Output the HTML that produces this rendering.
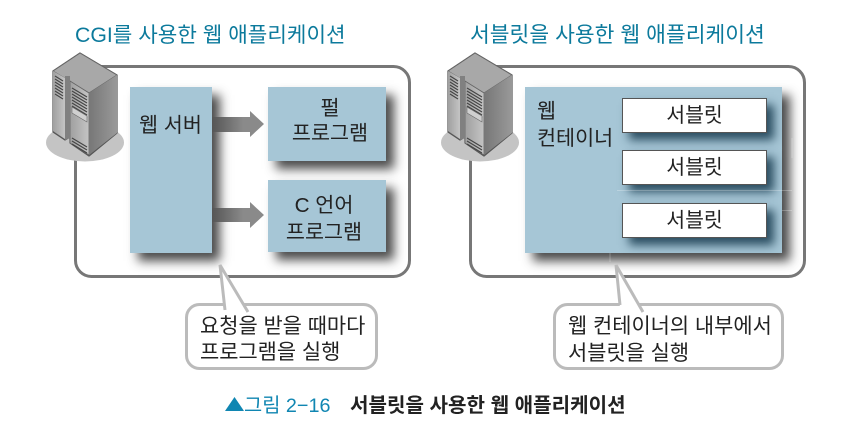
<!DOCTYPE html>
<html lang="ko"><head><meta charset="utf-8">
<style>
html,body{margin:0;padding:0;background:#fff}
#p{position:relative;width:864px;height:442px;overflow:hidden;background:#fff;font-family:"Liberation Sans","Noto Sans CJK KR",sans-serif;color:#222}
.b{position:absolute;background:#a6c6d6;box-shadow:8px 8px 10px rgba(30,30,30,.8)}
.s{position:absolute;background:#fff;border:1px solid #555;box-sizing:border-box;box-shadow:7px 7px 9px rgba(30,65,85,.9);left:622px;width:145px;height:35px;text-align:center;font-size:20.500px;line-height:33px}
.t{position:absolute;white-space:nowrap;font-size:20.700px;line-height:24px}
.c{text-align:center}
svg{position:absolute;left:0;top:0}
</style></head><body><div id="p">
<svg width="864" height="442" style="z-index:0">
<rect x="75.5" y="66.5" width="334" height="210" rx="16" fill="#fff" stroke="#777" stroke-width="3"/>
<rect x="470.5" y="66.5" width="334" height="210" rx="16" fill="#fff" stroke="#777" stroke-width="3"/>
<defs>
<linearGradient id="a" x1="0" x2="1" y1="0" y2="0"><stop offset="0" stop-color="#555"/><stop offset=".6" stop-color="#8a8a8a"/><stop offset="1" stop-color="#8a8a8a"/></linearGradient>
<linearGradient id="f" x1="0" x2="1" y1="0" y2="0"><stop offset="0" stop-color="#a0a0a0"/><stop offset="1" stop-color="#c4c4c4"/></linearGradient>
<linearGradient id="r" x1="0" x2="1" y1="0" y2="0"><stop offset="0" stop-color="#777"/><stop offset="1" stop-color="#999"/></linearGradient>
<g id="srv">
<ellipse cx="85" cy="142.500" rx="39" ry="19" fill="#c4c4c4"/>
<polygon points="80,53 117,75 117,133 89,156 70,143 70,137 65,140 53,132 53,71" fill="#777" stroke="#555" stroke-width="1.2" stroke-linejoin="round"/>
<polygon points="80,53 117,75 89,93 53,71" fill="#a8a8a8" stroke="#666" stroke-width="1"/>
<polygon points="53,71 65,78 65,139 53,131" fill="url(#f)"/>
<polygon points="70,81 89,93 89,155 70,143" fill="url(#f)" stroke="#666" stroke-width=".8"/>
<polygon points="89,93 117,75 117,133 89,155" fill="url(#r)"/>
<polygon points="65,76 70,76 70,138 65,140" fill="#808080"/>
<g stroke="#444" stroke-width="1.1">
<path d="M55,76l8,5M55,79l8,5M55,82l8,5M55,85l8,5M55,88l8,5M55,91l8,5M55,94l8,5"/>
<path d="M72,88l15,9M72,91l15,9M72,94l15,9M72,97l15,9M72,100l15,9M72,103l15,9M72,106l15,9M72,109l15,9"/>
<path d="M72,138l15,9M72,141l15,9M72,144l15,9"/>
</g>
<polygon points="72,107 87,116 87,122 72,113" fill="#d0d0d0" stroke="#666" stroke-width=".6"/>
</g>
</defs>
<use href="#srv"/>
<use href="#srv" x="395"/>
</svg>

<div class="b" style="left:130px;top:87px;width:82px;height:166px"></div>
<div class="b" style="left:268px;top:87px;width:118px;height:74px"></div>
<div class="b" style="left:268px;top:180px;width:118px;height:72px"></div>
<div class="b" style="left:525px;top:87px;width:257px;height:166px"></div>
<div class="s" style="top:98px">서블릿</div>
<div class="s" style="top:150px">서블릿</div>
<div class="s" style="top:203px">서블릿</div>

<svg width="864" height="442" style="z-index:2">
<polygon points="212,117 250,117 250,111 264,124 250,137 250,132 212,132" fill="url(#a)"/>
<polygon points="212,208 250,208 250,202 264,215 250,228 250,222 212,222" fill="url(#a)"/>
<path d="M617,190.500H792M782,210.500H792M610,253V262M792,138V158" stroke="#fff" stroke-opacity=".25" fill="none"/>
<rect x="186.5" y="304.5" width="190" height="64" rx="13" fill="#fff" stroke="#bbb" stroke-width="3"/>
<rect x="554.5" y="304.5" width="228" height="64" rx="13" fill="#fff" stroke="#bbb" stroke-width="3"/>
<polygon points="220,264 225,312 248,312" fill="#fff"/>
<path d="M225,310 L220,265 L248,312" fill="none" stroke="#bbb" stroke-width="3"/>
<polygon points="616,264 620,308 642,308" fill="#fff"/>
<path d="M620,305 L616,265 L643,312" fill="none" stroke="#bbb" stroke-width="3"/>
<polygon points="225,411 244,411 234.500,397" fill="#1086b2"/>
</svg>

<div style="position:absolute;inset:0;z-index:3">
<div class="t" style="left:75px;top:23px;font-size:21.250px;color:#0c7a9c">CGI를 사용한 웹 애플리케이션</div>
<div class="t" style="left:470px;top:23px;font-size:21.500px;color:#0c7a9c">서블릿을 사용한 웹 애플리케이션</div>
<div class="t" style="left:139px;top:114px">웹 서버</div>
<div class="t c" style="left:271px;width:118px;top:96px;line-height:25px">펄<br>프로그램</div>
<div class="t c" style="left:265px;width:118px;top:192px;line-height:27px">C 언어<br>프로그램</div>
<div class="t" style="left:537px;top:98px;line-height:27px">웹<br>컨테이너</div>
<div class="t" style="left:200px;top:314px;line-height:26px;font-size:20.900px">요청을 받을 때마다<br>프로그램을 실행</div>
<div class="t" style="left:568px;top:313px;line-height:27px;font-size:20.900px">웹 컨테이너의 내부에서<br>서블릿을 실행</div>
<div class="t" style="left:244px;top:394px;font-size:19.800px;color:#1086b2">그림 2−16</div>
<div class="t" style="left:350px;top:394px;font-size:20.100px;font-weight:bold;color:#222">서블릿을 사용한 웹 애플리케이션</div>
</div>
</div></body></html>
